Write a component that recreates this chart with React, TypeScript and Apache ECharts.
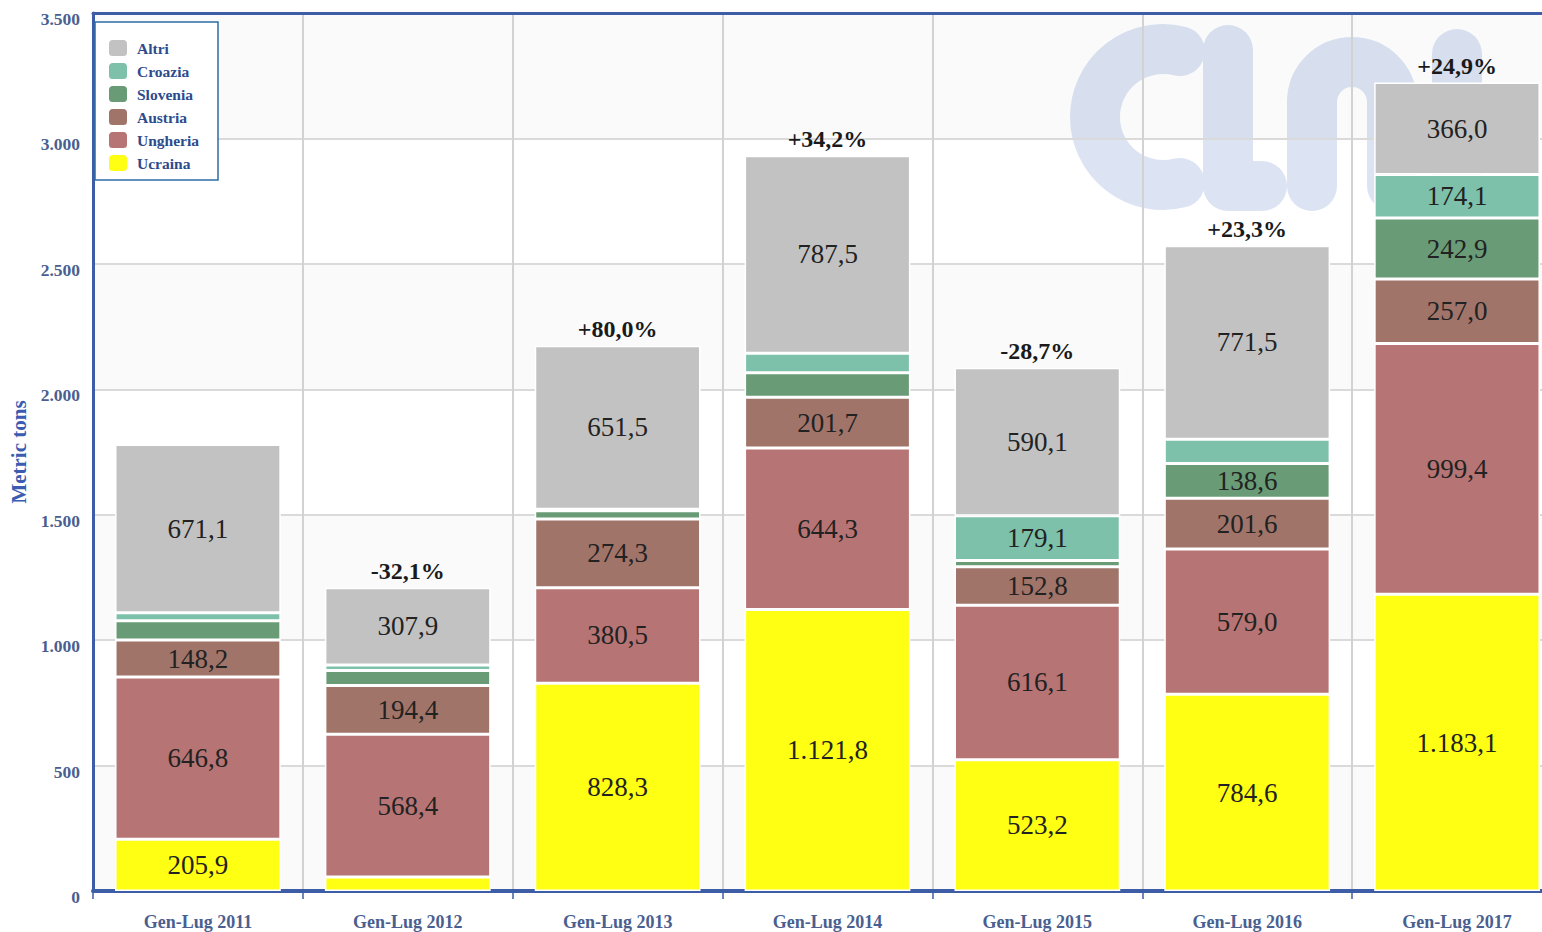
import React, { useEffect, useRef } from "react";
import * as echarts from "echarts";

const categories = ["Gen-Lug 2011", "Gen-Lug 2012", "Gen-Lug 2013", "Gen-Lug 2014", "Gen-Lug 2015", "Gen-Lug 2016", "Gen-Lug 2017"];
const ucraina = [205.9, 56, 828.3, 1121.8, 523.2, 784.6, 1183.1];
const ungheria = [646.8, 568.4, 380.5, 644.3, 616.1, 579.0, 999.4];
const austria = [148.2, 194.4, 274.3, 201.7, 152.8, 201.6, 257.0];
const slovenia = [76, 60, 33, 98, 25, 138.6, 242.9];
const croazia = [32, 22, 6, 78, 179.1, 97, 174.1];
const altri = [671.1, 307.9, 651.5, 787.5, 590.1, 771.5, 366.0];
const pctLabels = ["", "-32,1%", "+80,0%", "+34,2%", "-28,7%", "+23,3%", "+24,9%"];
const yTicks = [0, 500, 1000, 1500, 2000, 2500, 3000, 3500];

const seriesDefs = [
  { name: "Ucraina", data: ucraina, color: "#ffff14" },
  { name: "Ungheria", data: ungheria, color: "#b77474" },
  { name: "Austria", data: austria, color: "#a1746a" },
  { name: "Slovenia", data: slovenia, color: "#699c76" },
  { name: "Croazia", data: croazia, color: "#7dc1aa" },
  { name: "Altri", data: altri, color: "#c2c2c2" },
];

function fmtIt(v: number, dec: number): string {
  const s = v.toFixed(dec);
  const [ip, dp] = s.split(".");
  const withSep = ip.replace(/\B(?=(\d{3})+(?!\d))/g, ".");
  return dp !== undefined ? withSep + "," + dp : withSep;
}

const SERIF = '"Liberation Serif", "DejaVu Serif", serif';
const AXIS_BLUE = "#3d5ea6";
const TEXT_BLUE = "#4a5f90";

export default function App() {
  const ref = useRef<HTMLDivElement>(null);
  useEffect(() => {
    if (!ref.current) return;
    const chart = echarts.init(ref.current, undefined, { renderer: "svg" });
    const wmStyle = { stroke: "#dce4f4", lineWidth: 50, lineCap: "round" as const, lineJoin: "round" as const, fill: "none" };
    const series: any[] = seriesDefs.map((s) => ({
      name: s.name,
      type: "bar",
      stack: "total",
      data: s.data,
      barWidth: "79%",
      itemStyle: { color: s.color, borderColor: "#ffffff", borderWidth: 1.5 },
      label: {
        show: true,
        position: "inside",
        fontFamily: SERIF,
        fontSize: 27,
        color: "#222",
        formatter: (p: any) => (p.value >= 100 ? fmtIt(p.value, 1) : ""),
      },
    }));
    series.push({
      name: "pct",
      type: "bar",
      stack: "total",
      data: categories.map(() => 0),
      barWidth: "79%",
      itemStyle: { color: "rgba(0,0,0,0)", borderWidth: 0 },
      label: {
        show: true,
        position: "top",
        distance: 5,
        fontFamily: SERIF,
        fontSize: 24,
        fontWeight: "bold",
        color: "#1a1a1a",
        formatter: (p: any) => pctLabels[p.dataIndex],
      },
    });
    chart.setOption({
      animation: false,
      backgroundColor: "#ffffff",
      grid: { left: 93, right: 0, top: 13, bottom: 41, containLabel: false, outerBoundsMode: "none" },
      legend: {
        data: ["Altri", "Croazia", "Slovenia", "Austria", "Ungheria", "Ucraina"],
        orient: "vertical",
        left: 95,
        top: 22,
        icon: "roundRect",
        itemWidth: 20,
        itemHeight: 18,
        itemGap: 3,
        padding: [16, 19, 7, 12],
        borderColor: "#2e6da4",
        borderWidth: 1.5,
        backgroundColor: "#ffffff",
        textStyle: { fontFamily: SERIF, fontSize: 15.5, fontWeight: "bold", color: "#2d4b8c", padding: [0, 0, 0, 4] },
      },
      graphic: [
        {
          type: "arc",
          z: -10,
          shape: { cx: 1163, cy: 117, r: 68, startAngle: -Math.PI / 2 + 0.25, endAngle: Math.PI / 2 - 0.25, clockwise: false },
          style: wmStyle,
        },
        { type: "polyline", z: -10, shape: { points: [[1228, 50], [1228, 186], [1262, 186]] }, style: wmStyle },
        {
          type: "arc",
          z: -10,
          shape: { cx: 1352, cy: 102, r: 40, startAngle: Math.PI, endAngle: 0, clockwise: true },
          style: wmStyle,
        },
        { type: "line", z: -10, shape: { x1: 1312, y1: 102, x2: 1312, y2: 186 }, style: wmStyle },
        { type: "line", z: -10, shape: { x1: 1392, y1: 102, x2: 1392, y2: 186 }, style: wmStyle },
        { type: "line", z: -10, shape: { x1: 1457, y1: 54, x2: 1457, y2: 186 }, style: wmStyle },
      ],
      xAxis: [
        {
          type: "category",
          data: categories,
          position: "bottom",
          axisLine: { show: true, lineStyle: { color: AXIS_BLUE, width: 4 } },
          axisTick: { show: true, length: 8, lineStyle: { color: AXIS_BLUE, width: 1.5 } },
          splitLine: { show: true, lineStyle: { color: "#d2d2d2", width: 2 } },
          axisLabel: { margin: 22, fontFamily: SERIF, fontSize: 18, fontWeight: "bold", color: TEXT_BLUE },
        },
        {
          type: "category",
          data: categories,
          position: "top",
          axisLine: { show: true, lineStyle: { color: AXIS_BLUE, width: 3 } },
          axisTick: { show: false },
          axisLabel: { show: false },
          splitLine: { show: false },
        },
      ],
      yAxis: {
        type: "value",
        min: 0,
        max: 3500,
        interval: 500,
        name: "Metric tons",
        nameLocation: "middle",
        nameRotate: 90,
        nameGap: 62,
        nameTextStyle: { fontFamily: SERIF, fontSize: 21, fontWeight: "bold", color: "#3b5cb0" },
        axisLine: { show: true, lineStyle: { color: AXIS_BLUE, width: 3 } },
        axisTick: { show: false },
        splitLine: { show: true, lineStyle: { color: "#dadada", width: 2 } },
        splitArea: { show: true, areaStyle: { color: ["rgba(0,0,0,0.02)", "rgba(0,0,0,0)"] } },
        axisLabel: {
          margin: 13,
          verticalAlign: "top",
          lineHeight: 12,
          fontFamily: SERIF,
          fontSize: 17.5,
          fontWeight: "bold",
          color: TEXT_BLUE,
          formatter: (v: number) => (yTicks.includes(v) ? fmtIt(v, 0) : ""),
        },
      },
      series,
    });
    return () => chart.dispose();
  }, []);
  return (
    <div style={{ position: "fixed", left: 0, top: 0, width: 1542, height: 932, overflow: "hidden" }}>
      <div ref={ref} style={{ width: 1562, height: 932 }} />
    </div>
  );
}
